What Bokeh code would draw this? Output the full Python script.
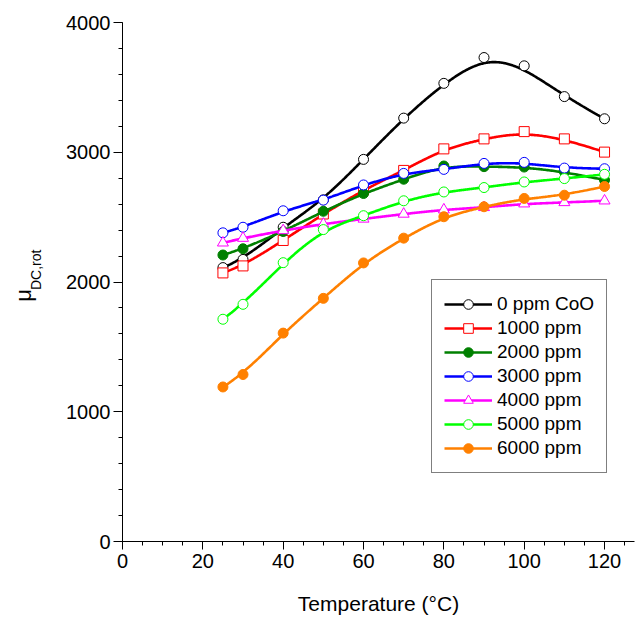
import numpy as np
from bokeh.plotting import figure
from bokeh.layouts import row
from bokeh.models import Range1d, Legend, LegendItem, SingleIntervalTicker
from bokeh.core.properties import value
from bokeh.embed import file_html
from bokeh.resources import INLINE

temperature = [25, 30, 40, 50, 60, 70, 80, 90, 100, 110, 120]
mu_0ppm = [2111, 2174, 2422, 2633, 2945, 3263, 3531, 3730, 3666, 3429, 3258]
mu_1000ppm = [2070, 2124, 2320, 2524, 2710, 2860, 3026, 3103, 3159, 3103, 3001]
mu_2000ppm = [2208, 2256, 2389, 2545, 2682, 2792, 2894, 2889, 2886, 2850, 2786]
mu_3000ppm = [2379, 2422, 2549, 2631, 2748, 2837, 2868, 2914, 2922, 2878, 2873]
mu_4000ppm = [2302, 2338, 2397, 2447, 2486, 2524, 2557, 2575, 2603, 2613, 2626]
mu_5000ppm = [1713, 1828, 2149, 2404, 2511, 2626, 2694, 2728, 2771, 2797, 2830]
mu_6000ppm = [1191, 1287, 1606, 1874, 2147, 2338, 2503, 2580, 2644, 2669, 2736]
series_labels = ["0 ppm CoO", "1000 ppm", "2000 ppm", "3000 ppm",
                 "4000 ppm", "5000 ppm", "6000 ppm"]
y_label_main = "μ"
y_label_sub = "DC,rot"

FONT = "Liberation Sans"


def bspline(xs, ys, n=400, k=3):
    """Clamped cubic B-spline using the data points as control points."""
    P = np.column_stack([xs, ys]).astype(float)
    m = len(P)
    inner = np.linspace(0.0, 1.0, m - k + 1)
    t = np.concatenate([[0.0] * k, inner, [1.0] * k])
    u = np.linspace(0.0, 1.0, n)
    N = np.zeros((n, len(t) - 1))
    for i in range(len(t) - 1):
        N[:, i] = ((t[i] <= u) & (u < t[i + 1])).astype(float)
    N[-1, m - 1] = 1.0
    for d in range(1, k + 1):
        cols = len(t) - 1 - d
        newN = np.zeros((n, cols))
        for i in range(cols):
            den1 = t[i + d] - t[i]
            den2 = t[i + d + 1] - t[i + 1]
            term = np.zeros(n)
            if den1 > 0:
                term += (u - t[i]) / den1 * N[:, i]
            if den2 > 0:
                term += (t[i + d + 1] - u) / den2 * N[:, i + 1]
            newN[:, i] = term
        N = newN
    C = N @ P
    return C[:, 0], C[:, 1]


# ---- narrow left figure holding the rotated y-axis title ----
LW, H = 60, 617
lab = figure(width=LW, height=H, output_backend="svg", toolbar_location=None,
             x_range=Range1d(0, LW), y_range=Range1d(0, H),
             x_axis_type=None, y_axis_type=None, min_border=0)
lab.min_border_left = lab.min_border_right = 0
lab.min_border_top = lab.min_border_bottom = 0
lab.grid.visible = False
lab.outline_line_color = None
lab.background_fill_color = "white"
lab.border_fill_color = "white"
lab.text(x=[23], y=[H - 332], text=[y_label_main], angle=np.pi / 2,
         text_font=value(FONT), text_font_size="22px", text_color="black",
         text_baseline="alphabetic", text_align="left")
lab.text(x=[35], y=[H - 318], text=[y_label_sub], angle=np.pi / 2,
         text_font=value(FONT), text_font_size="14px", text_color="black",
         text_baseline="alphabetic", text_align="left")

# ---- main figure ----
p = figure(width=635 - LW, height=H, output_backend="svg", toolbar_location=None,
           x_range=Range1d(0, 127.46), y_range=Range1d(0, 4000),
           min_border_left=122 - LW, min_border_right=1, min_border_top=22,
           min_border_bottom=H - 22 - 523)
p.grid.visible = False
p.outline_line_color = None
p.background_fill_color = "white"
p.border_fill_color = "white"

for ax in (p.xaxis[0], p.yaxis[0]):
    ax.axis_line_color = "black"
    ax.axis_line_width = 1
    ax.major_tick_line_color = "black"
    ax.minor_tick_line_color = "black"
    ax.major_tick_in = 0
    ax.minor_tick_in = 0
    ax.major_label_text_font = FONT
    ax.major_label_text_font_size = "20px"
    ax.major_label_text_color = "black"
    ax.axis_label_text_font = FONT
    ax.axis_label_text_font_style = "normal"
    ax.axis_label_text_color = "black"

p.xaxis.ticker = SingleIntervalTicker(interval=20, num_minor_ticks=4)
p.xaxis.major_tick_out = 8
p.xaxis.minor_tick_out = 4
p.xaxis.major_label_standoff = 4
p.xaxis.axis_label = "Temperature (°C)"
p.xaxis.axis_label_text_font_size = "21px"
p.xaxis.axis_label_standoff = 21

p.yaxis.ticker = SingleIntervalTicker(interval=1000, num_minor_ticks=5)
p.yaxis.major_tick_out = 9
p.yaxis.minor_tick_out = 4
p.yaxis.major_label_standoff = 3

series = [mu_0ppm, mu_1000ppm, mu_2000ppm, mu_3000ppm, mu_4000ppm, mu_5000ppm, mu_6000ppm]
colors = ["#000000", "#FF0000", "#008000", "#0000FF", "#FF00FF", "#00FF00", "#FF8000"]
markers = ["circle", "square", "circle", "circle", "triangle", "circle", "circle"]
filled = [False, False, True, False, False, False, True]
sizes = [10, 10, 10, 10, 11, 10, 10]

items = []
for vals, col, mk, fl, sz, lb in zip(series, colors, markers, filled, sizes, series_labels):
    cx, cy = bspline(temperature, vals)
    lr = p.line(cx, cy, line_color=col, line_width=2.6)
    sr = p.scatter(temperature, vals, marker=mk, size=sz, line_color=col,
                   line_width=1, fill_color=col if fl else "white")
    items.append(LegendItem(label=lb, renderers=[lr, sr]))

legend = Legend(items=items, location=(309, 68), label_text_font=FONT,
                label_text_font_size="19px", label_text_color="black",
                glyph_width=48, glyph_height=24, label_height=24,
                label_standoff=5, spacing=0, padding=12, margin=0,
                border_line_color="black", border_line_width=1,
                background_fill_color="white", background_fill_alpha=1.0)
p.add_layout(legend, "center")

layout = row(lab, p, spacing=0)
open("out.html", "w").write(file_html(layout, INLINE))
